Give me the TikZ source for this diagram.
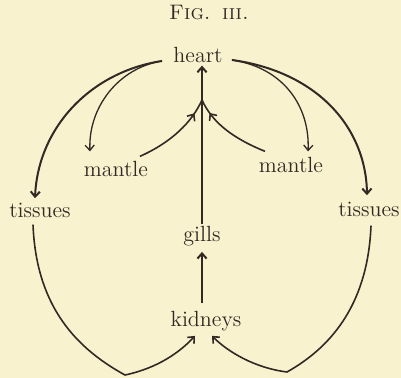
\documentclass[tikz,border=0pt]{standalone}
\usetikzlibrary{arrows.meta,decorations.markings,calc}
\definecolor{paper}{RGB}{249,242,206}
\definecolor{ink}{RGB}{50,40,36}
\begin{document}
\begin{tikzpicture}[x=0.5pt,y=-0.5pt,
  lbl/.style={text=ink,font=\fontsize{11}{13}\selectfont,inner sep=1pt,anchor=base},
  heavyline/.style={draw=ink,line width=1pt},
  midline/.style={draw=ink,line width=0.8pt},
  lightline/.style={draw=ink,line width=0.65pt},
  tip/.style={-{Straight Barb[length=2.6pt,width=4.6pt]}},
  midtip/.style={postaction={decorate},decoration={markings,mark=at position #1 with {\arrow{Straight Barb[length=2.6pt,width=4.6pt]}}}}
]
\fill[paper] (0,0) rectangle (401,378);
\useasboundingbox (0,0) rectangle (401,378);

\node[text=ink,font=\fontsize{10.5}{12}\selectfont,inner sep=1pt,anchor=base] (title) at (209,20) {\textsc{Fig.\ \,iii.}};

\node[lbl] (heart)   at (198,63)  {heart};
\node[lbl] (mantleL) at (116,177) {mantle};
\node[lbl] (mantleR) at (291,173) {mantle};
\node[lbl] (tissuesL) at (40,218) {tissues};
\node[lbl] (tissuesR) at (369,217) {tissues};
\node[lbl] (gills)   at (202,242) {gills};
\node[lbl] (kidneys) at (206,327) {kidneys};

\coordinate (J)  at (202,100);
\coordinate (BL) at (125,375);
\coordinate (BR) at (287,372);

% central trunk
\draw[heavyline,tip] (gills.north) -- (gills.north |- heart.south);
\draw[heavyline,tip] ($(gills.south |- kidneys.north)+(0,-6)$) -- ($(gills.south)+(0,3)$);

% mantle to trunk
\draw[midline,midtip=0.82] ($(mantleL.north)+(24,-3)$) .. controls (172,142) and (192,122) .. (J);
\draw[midline,midtip=0.82] ($(mantleR.north)+(-26,-4)$) .. controls (232,138) and (212,122) .. (J);

% heart to mantles
\draw[lightline,tip] ($(heart.west)+(-9,5.5)$) .. controls (118,68) and (88,108) .. ($(mantleL.north)+(-26,-8)$);
\draw[lightline,tip] ($(heart.east)+(7,4.5)$) .. controls (285,68) and (310,108) .. ($(mantleR.north)+(17,-4)$);

% heart to tissues
\draw[heavyline,tip] ($(heart.west)+(-9,5.5)$) .. controls (90,72) and (38,128) .. ($(tissuesL.north)+(-5,-3)$);
\draw[heavyline,tip] ($(heart.east)+(7,4.5)$) .. controls (318,72) and (366,128) .. ($(tissuesR.north)+(-2,-5)$);

% tissues to kidneys
\draw[midline,tip] ($(tissuesL.south)+(-7,4)$) .. controls (36,300) and (70,345) .. (BL)
   .. controls (158,368) and (180,352) .. ($(kidneys.south)+(-11,2)$);
\draw[midline,tip] ($(tissuesR.south)+(2,6)$) .. controls (368,300) and (335,345) .. (BR)
   .. controls (255,368) and (228,352) .. ($(kidneys.south)+(6,2)$);
\end{tikzpicture}
\end{document}
